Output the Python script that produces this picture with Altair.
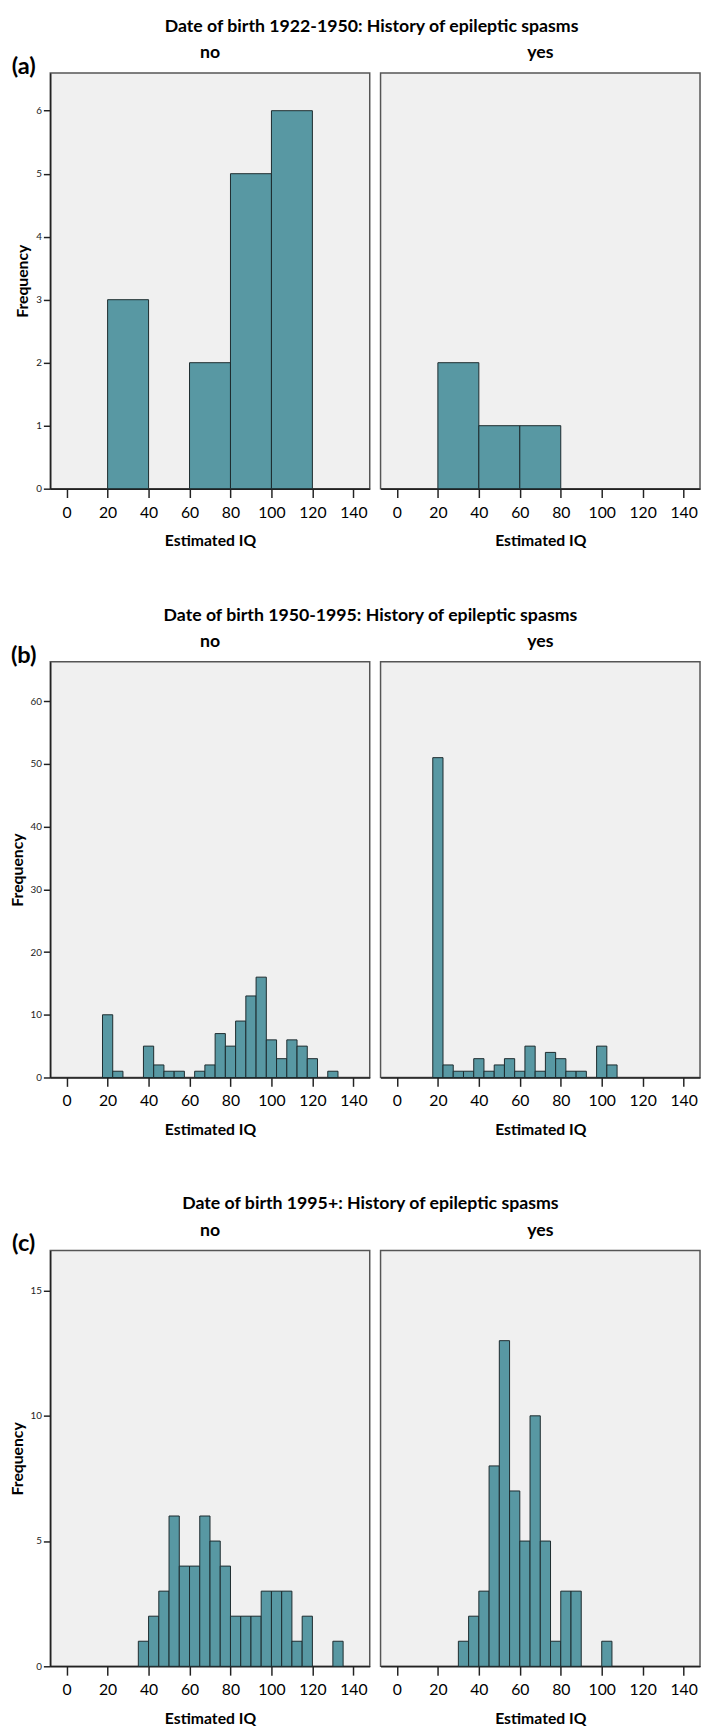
import altair as alt
import pandas as pd

# ---------------- data ----------------
row_titles = [
    "Date of birth 1922-1950: History of epileptic spasms",
    "Date of birth 1950-1995: History of epileptic spasms",
    "Date of birth 1995+: History of epileptic spasms",
]
row_tags = ["(a)", "(b)", "(c)"]
groups = ["no", "yes"]

# (a) bins of width 20, given by lower edge
a_bin = 20
a_no_lo = [20, 60, 80, 100]
a_no_n = [3, 2, 5, 6]
a_yes_lo = [20, 40, 60]
a_yes_n = [2, 1, 1]

# (b) bins of width 5, given by bin centre
b_bin = 5
b_no_mid = [20, 25, 40, 45, 50, 55, 65, 70, 75, 80, 85, 90, 95, 100, 105, 110, 115, 120, 130]
b_no_n = [10, 1, 5, 2, 1, 1, 1, 2, 7, 5, 9, 13, 16, 6, 3, 6, 5, 3, 1]
b_yes_mid = [20, 25, 30, 35, 40, 45, 50, 55, 60, 65, 70, 75, 80, 85, 90, 100, 105]
b_yes_n = [51, 2, 1, 1, 3, 1, 2, 3, 1, 5, 1, 4, 3, 1, 1, 5, 2]

# (c) bins of width 5, given by lower edge
c_bin = 5
c_no_lo = [35, 40, 45, 50, 55, 60, 65, 70, 75, 80, 85, 90, 95, 100, 105, 110, 115, 130]
c_no_n = [1, 2, 3, 6, 4, 4, 6, 5, 4, 2, 2, 2, 3, 3, 3, 1, 2, 1]
c_yes_lo = [30, 35, 40, 45, 50, 55, 60, 65, 70, 75, 80, 85, 100]
c_yes_n = [1, 2, 3, 8, 13, 7, 5, 10, 5, 1, 3, 3, 1]

x_ticks = [0, 20, 40, 60, 80, 100, 120, 140]
x_domain = [-8, 148]
y_ticks = [[0, 1, 2, 3, 4, 5, 6], [0, 10, 20, 30, 40, 50, 60], [0, 5, 10, 15]]
y_max = [6.6, 66.3, 16.6]

TEAL = "#5898a3"
FONT = "Lato"
PW, PH = 325, 423


def frame(lo, n, width):
    return pd.DataFrame({"lo": lo, "hi": [v + width for v in lo], "n": n, "base": 0})


def frame_mid(mid, n, width):
    return pd.DataFrame({"lo": [m - width / 2 for m in mid],
                         "hi": [m + width / 2 for m in mid], "n": n, "base": 0})


data = [
    (frame(a_no_lo, a_no_n, a_bin), frame(a_yes_lo, a_yes_n, a_bin)),
    (frame_mid(b_no_mid, b_no_n, b_bin), frame_mid(b_yes_mid, b_yes_n, b_bin)),
    (frame(c_no_lo, c_no_n, c_bin), frame(c_yes_lo, c_yes_n, c_bin)),
]

x_axis = alt.Axis(values=x_ticks, title="Estimated IQ", grid=False,
                  labelFont=FONT, labelFontSize=16, labelColor="black",
                  labelPadding=7, labelFlush=False,
                  tickSize=9, tickWidth=1.5, tickColor="#222",
                  domainColor="#222", domainWidth=1.5,
                  titleFont=FONT, titleFontSize=16, titleFontWeight="bold",
                  titleColor="black", titlePadding=13)


def y_axis(ticks):
    return alt.Axis(values=ticks, title="Frequency", grid=False,
                    labelFont=FONT, labelFontSize=10, labelColor="#222",
                    labelPadding=2, tickSize=7, tickWidth=1.5, tickColor="#222",
                    domainColor="#222", domainWidth=1.5,
                    titleFont=FONT, titleFontSize=16, titleFontWeight="bold",
                    titleColor="black", titlePadding=5)


def text_layer(label, x, y, size):
    return alt.Chart(pd.DataFrame({"t": [label]})).mark_text(
        font=FONT, fontSize=size, fontWeight="bold", color="black",
        align="center", baseline="middle").encode(
        text="t:N", x=alt.value(x), y=alt.value(y))


def panel(df, r, left):
    bars = alt.Chart(df).mark_bar(fill=TEAL, stroke="#1c2a2d", strokeWidth=1).encode(
        x=alt.X("lo:Q", scale=alt.Scale(domain=x_domain, nice=False, zero=False), axis=x_axis),
        x2="hi:Q",
        y=alt.Y("n:Q", scale=alt.Scale(domain=[0, y_max[r]], nice=False),
                axis=y_axis(y_ticks[r]) if left else None),
        y2="base:Q",
    )
    layers = [bars, text_layer(groups[0] if left else groups[1], PW / 2, -20, 18)]
    if left:
        layers.append(text_layer(row_tags[r], -27, -6, 24))
    return alt.layer(*layers).properties(width=PW, height=PH)


rows = []
for r in range(3):
    row = alt.hconcat(panel(data[r][0], r, True), panel(data[r][1], r, False), spacing=9)
    row = row.properties(title=alt.TitleParams(row_titles[r], font=FONT, fontSize=18,
                                               fontWeight="bold", color="black",
                                               anchor="middle", offset=8, dx=16))
    rows.append(row)

chart = alt.vconcat(*rows, spacing=58).properties(
    padding={"left": 0, "top": -5, "right": 0, "bottom": 0},
    background="white",
).configure_view(fill="#f0f0f0", stroke="#555", strokeWidth=1.5)

chart.save("out.html", embed_options={"renderer": "svg", "actions": False})
